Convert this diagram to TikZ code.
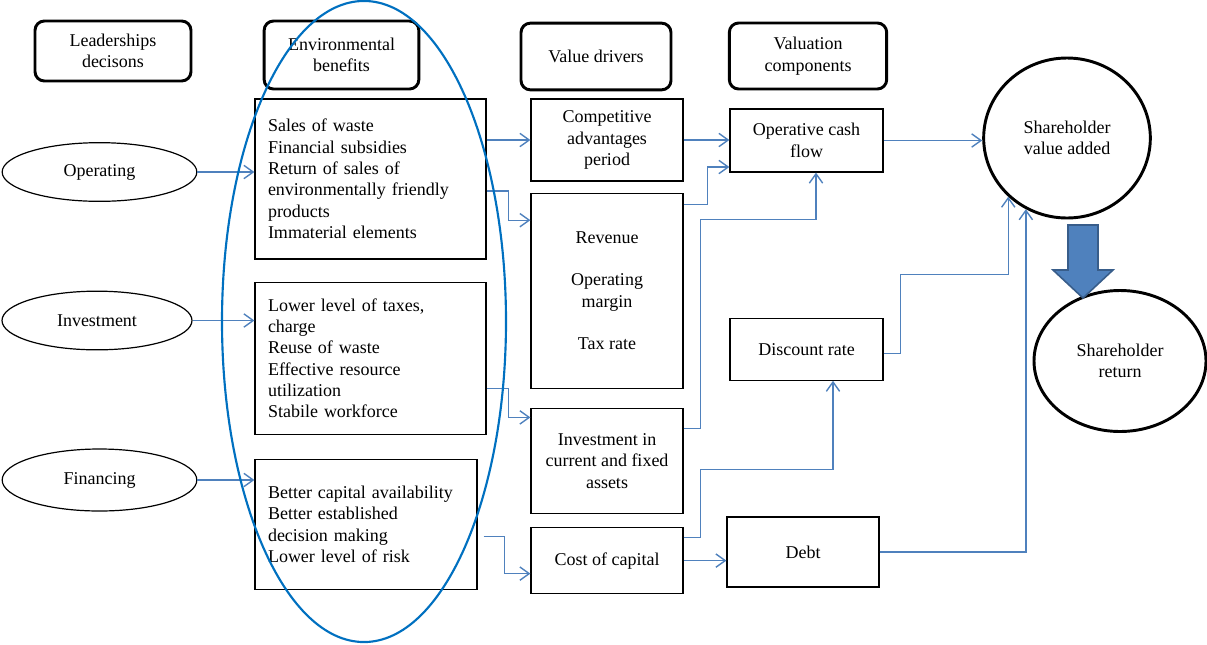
\documentclass[tikz,border=0pt]{standalone}
\usepackage{fontspec}
\setmainfont{Liberation Serif}
\usepackage{tikz}
\usetikzlibrary{positioning,arrows.meta,shapes.geometric}
\definecolor{linkblue}{RGB}{79,129,189}
\definecolor{ringblue}{RGB}{0,112,192}
\definecolor{arrowedge}{RGB}{56,93,138}

\begin{document}
\begin{tikzpicture}[
  x=0.75pt, y=-0.75pt,
  font=\fontsize{13.5pt}{16pt}\selectfont,
  head/.style={rectangle, draw, line width=2.2pt, rounded corners=7pt,
               align=center, inner sep=0pt},
  choice/.style={ellipse, draw, line width=0.9pt, minimum width=146pt,
                 minimum height=44pt, inner sep=0pt},
  benefit/.style={rectangle, draw, line width=0.9pt, align=left,
                  inner xsep=9.75pt, inner ysep=0pt},
  driver/.style={rectangle, draw, line width=0.9pt, align=center,
                 minimum width=114pt, inner sep=2pt},
  goal/.style={ellipse, draw, line width=2.2pt, align=center, inner sep=0pt},
  link/.style={draw=linkblue, line width=1.05pt},
  fatarrow/.style={fill=linkblue, draw=arrowedge, line width=1.2pt},
  >={Straight Barb[length=7pt,width=10pt]}
]
  \useasboundingbox (0,0) rectangle (1207,644);

  \node[head, minimum width=117pt, minimum height=45pt]   (lead) at (113,51)   {Leaderships\\decisons};
  \node[head, minimum width=116pt, minimum height=51pt]   (envh) at (341.5,55) {Environmental\\benefits};
  \node[head, minimum width=112.5pt, minimum height=50pt] (vdh)  at (596,56.5) {Value drivers};
  \node[head, minimum width=118pt, minimum height=49.5pt] (vch)  at (808,56)   {Valuation\\components};

  \node[choice] (opr) at (99.5,172) {Operating};
  \node[choice, minimum width=142.5pt] (inv) at (97,320.5) {Investment};
  \node[choice, minimum height=46.5pt] (fin) at (99.5,480) {Financing};

  \node[benefit, text width=153.75pt, minimum height=120pt] (ben1) at (370.5,179)
    {Sales of waste\\Financial subsidies\\Return of sales of\\environmentally friendly\\products\\Immaterial elements};
  \node[benefit, text width=153.75pt, minimum height=114pt, below=16.5pt of ben1] (ben2)
    {Lower level of taxes,\\charge\\Reuse of waste\\Effective resource\\utilization\\Stabile workforce};
  \node[benefit, text width=147pt, minimum height=97.5pt, below=18pt of ben2.south west, anchor=north west] (ben3)
    {Better capital availability\\Better established\\decision making\\Lower level of risk};

  \node[driver, minimum height=61.5pt] (comp) at (607,140) {Competitive\\advantages\\period};
  \node[driver, minimum height=146.25pt, below=8.25pt of comp] (rev) {Revenue\\[16pt]Operating\\margin\\[16pt]Tax rate};
  \node[driver, minimum height=78.75pt, below=14.25pt of rev] (invd) {Investment in\\current and fixed\\assets};
  \node[driver, minimum height=49.5pt, below=9.75pt of invd] (cost) {Cost of capital};

  \node[driver, minimum width=114.75pt, minimum height=47.25pt] (ocf) at (806.5,140.5) {Operative cash\\flow};
  \node[driver, minimum width=114.75pt, minimum height=46.5pt, below=108.75pt of ocf] (disc) {Discount rate};
  \node[driver, minimum height=52.5pt] (debt) at (803,552) {Debt};

  \node[goal, minimum width=125pt, minimum height=120pt] (sva) at (1067,138) {Shareholder\\value added};
  \node[goal, minimum width=129pt, minimum height=105.75pt] (sr) at (1120,361) {Shareholder\\return};

  \draw[link,->] (opr.east) -- (opr.east -| ben1.west);
  \draw[link,->] (inv.east) -- (inv.east -| ben2.west);
  \draw[link,->] (fin.east) -- (fin.east -| ben3.west);
  \draw[link,->] (comp.west -| ben1.east) -- (comp.west);
  \draw[link,->] ([yshift=-9pt]ben1.east) -- ++(22,0) |- ([yshift=52.875pt]rev.west);
  \draw[link,->] ([yshift=-22.5pt]ben2.east) -- ++(22,0) |- ([yshift=32.625pt]invd.west);
  \draw[link,->] ([xshift=4.5pt,yshift=-9pt]ben3.east) -- ++(21,0) |- ([yshift=-9.75pt]cost.west);
  \draw[link,->] (comp.east) -- (comp.east -| ocf.west);
  \draw[link,->] ([yshift=64.875pt]rev.east) -- ++(24,0) |- ([yshift=-19.875pt]ocf.west);
  \draw[link,->] ([yshift=24.375pt]invd.east) -- ++(17,0) -- ++(0,-209) -| ([xshift=7.125pt]ocf.south);
  \draw[link,->] ([yshift=17.25pt]cost.east) -- ++(17,0) -- ++(0,-68) -| ([xshift=19.875pt]disc.south);
  \draw[link,->] (cost.east) -- (cost.east -| debt.west);
  \draw[link,->] (ocf.east) -- (ocf.east -| sva.west);
  \draw[link,->] ([yshift=-3pt]disc.east) -- ++(17,0) -- ++(0,-79) -| (sva.-135);
  \draw[link,->] (debt.east) -| (sva.-120);

  \draw[fatarrow] (1068,225) -- (1098,225) -- (1098,270) -- (1113,270)
    -- (1083,298) -- (1053,270) -- (1068,270) -- cycle;

  \draw[ringblue, line width=1.6pt] (364,321.5) ellipse [x radius=106.5pt, y radius=240.4pt];
\end{tikzpicture}
\end{document}
